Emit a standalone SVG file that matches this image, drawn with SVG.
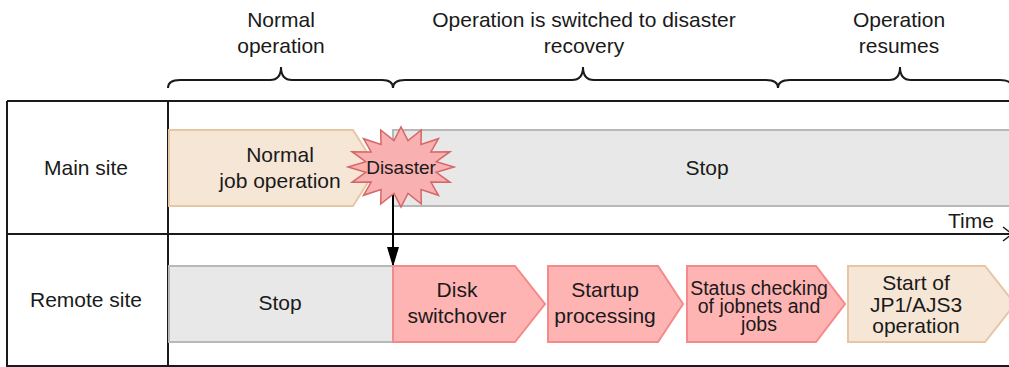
<svg xmlns="http://www.w3.org/2000/svg" width="1009" height="367" viewBox="0 0 1009 367">
<defs>
<style>
text{font-family:"Liberation Sans",Arial,sans-serif;font-size:21px;fill:#1a1a1a;text-anchor:middle;}
.grid{stroke:#1a1a1a;stroke-width:2;fill:none;}
.brace{stroke:#1a1a1a;stroke-width:2;fill:none;}
.beige{fill:#f6e6d6;stroke:#e8c6a4;stroke-width:2;}
.grey{fill:#e8e8e8;stroke:#b8b8b8;stroke-width:2;}
.pink{fill:#ffb4b4;stroke:#f48a8a;stroke-width:2;}
.star{fill:#f9b0b0;stroke:#d56767;stroke-width:1.5;}
.small{font-size:19.5px;}
</style>
<marker id="ah" viewBox="0 0 10 10" refX="9" refY="5" markerWidth="20" markerHeight="12" markerUnits="userSpaceOnUse" orient="auto" preserveAspectRatio="none">
<path d="M0,0 L10,5 L0,10 Z" fill="#000"/>
</marker>
</defs>
<g id="labels-top">
<text x="281" y="27">Normal</text>
<text x="281" y="53">operation</text>
<text x="584" y="27">Operation is switched to disaster</text>
<text x="584" y="53">recovery</text>
<text x="899" y="27">Operation</text>
<text x="899" y="53">resumes</text>
</g>
<g id="braces">
<path class="brace" d="M168,88 Q168,80 180,80 L270,80 Q281,80 281,67 Q281,80 292,80 L382,80 Q393,80 393,88"/>
<path class="brace" d="M393,88 Q393,80 405,80 L572,80 Q583,80 583,67 Q583,80 594,80 L766,80 Q778,80 778,88"/>
<path class="brace" d="M778,88 Q778,80 790,80 L889,80 Q900,80 900,67 Q900,80 911,80 L1000,80 Q1012,80 1012,88"/>
</g>
<g id="table">
<path class="grid" d="M7,101 L1010,101 M7,101 L7,366 L1010,366 M168,101 L168,366 M7,234 L1010,234"/>
<text x="86" y="175">Main site</text>
<text x="86" y="307">Remote site</text>
</g>
<g id="main-stop">
<rect class="grey" x="393" y="130" width="620" height="76"/>
<text x="707" y="175">Stop</text>
</g>
<g id="normal-job">
<path class="beige" d="M169,130 L353,130 L377,168 L353,206 L169,206 Z"/>
<text x="280" y="162">Normal</text>
<text x="280" y="188">job operation</text>
</g>
<g id="remote-stop">
<rect class="grey" x="169" y="266" width="224" height="76"/>
<text x="280" y="310">Stop</text>
</g>
<g id="connectors">
<line x1="393" y1="195" x2="393" y2="265" stroke="#000" stroke-width="2" marker-end="url(#ah)"/>
<path d="M1003,227 L1012,234 L1003,241" fill="none" stroke="#1a1a1a" stroke-width="1.5"/>
</g>
<g id="disaster">
<polygon class="star" points="454,167 436.3,172.3 450,182.3 430.9,182 438.5,195.3 421,189.5 421.3,204 408,193.5 401,207 394,193.5 380.7,204 381,189.5 363.5,195.3 371.1,182 352,182.3 365.7,172.3 348,167 365.7,161.7 352,151.7 371.1,152 363.5,138.7 381,144.5 380.7,130 394,140.5 401,127 408,140.5 421.3,130 421,144.5 438.5,138.7 430.9,152 450,151.7 436.3,161.7"/>
<text x="401" y="174" style="font-size:19px">Disaster</text>
</g>
<g id="time-label">
<text x="971" y="228">Time</text>
</g>
<g id="disk-switchover">
<path class="pink" d="M393,266 L515,266 L545,304 L515,342 L393,342 Z"/>
<text x="457" y="297">Disk</text>
<text x="457" y="323">switchover</text>
</g>
<g id="startup">
<path class="pink" d="M548,266 L658,266 L683,304 L658,342 L548,342 Z"/>
<text x="605" y="297">Startup</text>
<text x="605" y="323">processing</text>
</g>
<g id="status-check">
<path class="pink" d="M687,266 L816,266 L845,304 L816,342 L687,342 Z"/>
<text class="small" x="759" y="295">Status checking</text>
<text class="small" x="759" y="313">of jobnets and</text>
<text class="small" x="759" y="331">jobs</text>
</g>
<g id="start-jp1">
<path class="beige" d="M848,266 L985,266 L1015,304 L985,342 L848,342 Z"/>
<text x="916" y="290">Start of</text>
<text x="916" y="312">JP1/AJS3</text>
<text x="916" y="333">operation</text>
</g>
</svg>
